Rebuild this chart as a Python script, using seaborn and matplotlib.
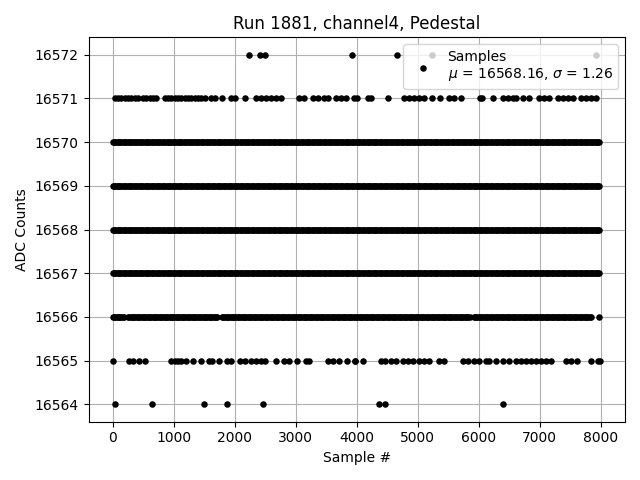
"""
Pedestal scan for run 1881, channel 4: ADC counts per sample.
"""

import matplotlib
matplotlib.use('Agg')
import matplotlib.pyplot as plt
import numpy as np
import pandas as pd
import seaborn as sns

# sample numbers of the sparse levels
SAMPLES_16572 = [2230, 2420, 2500, 3930, 4660, 5240, 7930]
SAMPLES_16571 = [
    28, 83, 137, 192, 246, 301, 356, 410, 492, 546, 601, 656, 710,
    847, 902, 956, 1011, 1066, 1120, 1175, 1230, 1284, 1339, 1393, 1448, 1503,
    1612, 1667, 1787, 1929, 1995, 2159, 2350, 2432, 2514, 2596, 2678, 2760,
    3060, 3142, 3279, 3361, 3470, 3524, 3661, 3743, 3825, 3962, 4005, 4180,
    4235, 4508, 4781, 4863, 4945, 5027, 5109, 5230, 5372, 5519, 5601, 5710,
    6028, 6055, 6230, 6393, 6475, 6557, 6612, 6721, 6820, 6995, 7077, 7159,
    7295, 7377, 7459, 7541, 7678, 7760, 7842, 7924,
]
SAMPLES_16566_EXTRA = [7967]
SAMPLES_16565 = [
    0, 260, 330, 426, 519, 956, 1011, 1066, 1121, 1192, 1311, 1449, 1574,
    1629, 1738, 1869, 1940, 2077, 2159, 2268, 2350, 2432, 2497, 2678, 2814,
    2896, 3022, 3169, 3224, 3525, 3607, 3705, 3836, 3967, 3979, 4098, 4399,
    4470, 4563, 4645, 4754, 4836, 4918, 5027, 5109, 5191, 5355, 5437, 5738,
    5820, 5929, 6011, 6120, 6175, 6284, 6393, 6492, 6612, 6694, 6776, 6858,
    6940, 7022, 7104, 7186, 7432, 7514, 7607, 7842, 7951, 7995,
]
SAMPLES_16564 = [28, 640, 1492, 1869, 2459, 4361, 4459, 6393]

# densely filled levels: sample ranges where the row looks solid
SPANS_16570 = [(0, 7999)]
SPANS_16569 = [(0, 7999)]
SPANS_16568 = [(0, 7999)]
SPANS_16567 = [(0, 7999)]
SPANS_16566 = [(0, 190), (250, 1720), (1790, 5850), (5920, 7840)]
SPAN_STEP = 20

LEGEND_LABEL = 'Samples\n$\\mu$ = 16568.16, $\\sigma$ = 1.26'


def build_frame():
    rows = []
    sparse = {
        16572: SAMPLES_16572,
        16571: SAMPLES_16571,
        16566: SAMPLES_16566_EXTRA,
        16565: SAMPLES_16565,
        16564: SAMPLES_16564,
    }
    for adc, samples in sparse.items():
        rows += [(s, adc) for s in samples]

    dense = {
        16570: SPANS_16570,
        16569: SPANS_16569,
        16568: SPANS_16568,
        16567: SPANS_16567,
        16566: SPANS_16566,
    }
    for adc, spans in dense.items():
        for start, stop in spans:
            rows += [(s, adc) for s in np.arange(start, stop + 1, SPAN_STEP)]

    return pd.DataFrame(rows, columns=['sample', 'adc'])


def main():
    df = build_frame()

    fig, ax = plt.subplots(figsize=(6.4, 4.8), dpi=100)
    sns.scatterplot(
        data=df, x='sample', y='adc', color='k', marker='o', s=22,
        linewidth=0, label=LEGEND_LABEL, ax=ax, zorder=3,
    )
    ax.set_xlim(-400, 8400)
    ax.set_ylim(16563.6, 16572.4)
    ax.set_yticks(range(16564, 16573))
    ax.ticklabel_format(axis='y', useOffset=False, style='plain')
    ax.grid(True, color='#b0b0b0', linewidth=0.8)
    ax.set_title('Run 1881, channel4, Pedestal')
    ax.set_xlabel('Sample #')
    ax.set_ylabel('ADC Counts')
    ax.legend(loc='upper right')
    plt.tight_layout()
    plt.savefig('out.png', dpi=100)
    plt.close()


if __name__ == '__main__':
    main()
